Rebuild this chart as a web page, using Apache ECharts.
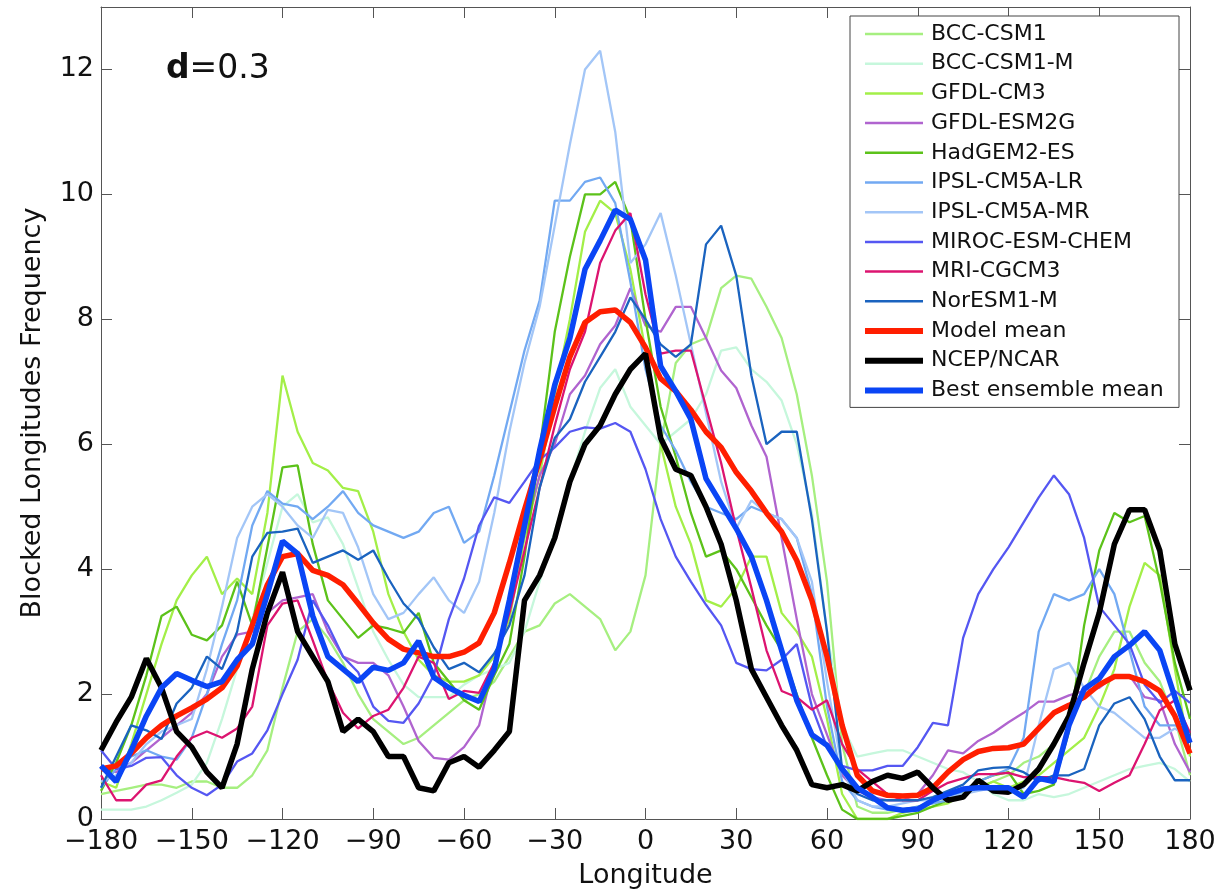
<!DOCTYPE html>
<html><head><meta charset="utf-8">
<script src="https://cdn.jsdelivr.net/npm/echarts@6/dist/echarts.min.js"></script>
<style>html,body{margin:0;padding:0;background:#fff}#c{width:1226px;height:894px}</style>
</head><body><div id="c"></div>
<script>
const lon = [-180,-175,-170,-165,-160,-155,-150,-145,-140,-135,-130,-125,-120,-115,-110,-105,-100,-95,-90,-85,-80,-75,-70,-65,-60,-55,-50,-45,-40,-35,-30,-25,-20,-15,-10,-5,0,5,10,15,20,25,30,35,40,45,50,55,60,65,70,75,80,85,90,95,100,105,110,115,120,125,130,135,140,145,150,155,160,165,170,175,180];
const xTicks = [-180,-150,-120,-90,-60,-30,0,30,60,90,120,150,180];
const yTicks = [0,2,4,6,8,10,12];

const bccCsm1 = [0.4,0.45,0.5,0.55,0.55,0.5,0.6,0.6,0.5,0.5,0.7,1.1,2.1,3.0,3.2,2.9,2.5,2.0,1.6,1.4,1.2,1.3,1.5,1.7,1.9,2.0,2.2,2.6,3.0,3.1,3.45,3.6,3.4,3.2,2.7,3.0,3.9,6.0,7.3,7.6,7.7,8.5,8.7,8.65,8.2,7.7,6.8,5.5,3.8,1.2,0.2,0.1,0.1,0.15,0.2,0.25,0.3,0.4,0.5,0.6,0.7,0.9,1.0,1.2,1.6,2.0,2.6,3.0,3.0,2.5,2.2,1.6,0.7];
const bccCsm1M = [0.15,0.15,0.15,0.2,0.3,0.42,0.55,0.9,1.6,2.4,3.2,4.1,5.0,5.2,4.75,4.83,4.4,3.7,3.0,2.55,2.15,1.95,1.95,1.95,2.15,2.3,2.4,2.5,3.0,3.8,4.6,5.4,6.2,6.9,7.2,6.6,6.3,6.0,6.2,6.4,6.8,7.5,7.55,7.2,7.0,6.7,6.0,4.9,3.0,1.5,1.0,1.05,1.1,1.1,1.0,0.9,0.8,0.75,0.6,0.4,0.3,0.3,0.4,0.35,0.4,0.5,0.6,0.7,0.8,0.85,0.9,0.8,0.6];
const gfdlCm3 = [0.6,0.5,1.2,2.0,2.8,3.5,3.9,4.2,3.6,3.85,3.6,4.9,7.1,6.2,5.7,5.58,5.3,5.25,4.6,3.6,3.0,2.55,2.3,2.2,2.2,2.3,2.6,3.2,4.5,5.5,6.8,8.0,9.4,9.9,9.7,8.8,7.5,6.0,5.0,4.4,3.5,3.4,3.7,4.2,4.2,3.3,3.0,2.6,1.6,0.4,0.0,0.0,0.0,0.1,0.15,0.2,0.25,0.4,0.5,0.6,0.5,0.6,0.7,0.9,1.1,1.3,1.8,2.4,3.4,4.1,3.9,2.4,1.0];
const gfdlEsm2g = [0.8,0.75,0.9,1.1,1.3,1.5,1.7,2.0,2.6,2.95,3.0,3.3,3.5,3.55,3.6,3.0,2.6,2.5,2.5,2.3,1.8,1.25,0.98,0.95,1.15,1.5,2.5,3.4,4.6,5.5,6.0,6.8,7.1,7.6,7.9,8.5,7.9,7.8,8.2,8.2,7.7,7.18,6.9,6.3,5.8,4.5,3.2,2.0,1.35,0.7,0.45,0.35,0.3,0.3,0.4,0.7,1.1,1.05,1.25,1.38,1.55,1.7,1.88,1.88,1.98,2.05,2.1,2.3,2.3,1.95,1.9,1.2,0.75];
const hadGem2Es = [0.45,0.9,1.5,2.3,3.25,3.4,2.95,2.86,3.1,3.8,3.1,4.35,5.63,5.66,4.4,3.5,3.2,2.9,3.1,3.05,2.98,3.3,2.5,2.2,1.9,1.75,2.3,2.8,4.2,5.9,7.8,9.0,10.0,10.0,10.2,9.6,8.0,6.6,5.8,4.9,4.2,4.3,4.0,3.55,3.1,2.7,2.0,1.3,0.7,0.15,0.0,0.0,0.0,0.05,0.1,0.2,0.3,0.45,0.6,0.7,0.75,0.4,0.45,0.55,1.4,3.1,4.3,4.9,4.75,4.85,3.8,2.5,1.6];
const ipslLr = [0.5,0.8,1.0,1.1,1.0,0.95,1.3,2.0,2.8,3.5,4.7,5.25,5.05,5.0,4.8,5.0,5.25,4.9,4.7,4.6,4.5,4.6,4.9,5.0,4.42,4.6,5.5,6.5,7.5,8.3,9.9,9.9,10.2,10.27,9.86,8.6,7.2,6.3,5.9,5.4,5.0,4.9,4.8,5.0,4.9,4.8,4.5,3.6,1.8,0.6,0.3,0.2,0.15,0.15,0.2,0.25,0.3,0.45,0.6,0.7,0.8,1.3,3.0,3.6,3.5,3.6,4.0,3.6,2.7,1.8,1.5,1.5,1.4];
const ipslMr = [0.6,0.7,0.9,1.2,1.4,1.5,1.6,2.4,3.4,4.5,5.0,5.2,5.0,4.7,4.5,4.95,4.9,4.35,3.6,3.2,3.3,3.6,3.87,3.5,3.3,3.8,4.9,6.2,7.3,8.2,9.5,10.8,12.0,12.3,11.0,8.9,9.2,9.7,8.7,7.6,6.5,5.4,4.65,5.1,4.9,4.8,4.5,3.8,2.2,0.8,0.3,0.2,0.2,0.25,0.3,0.3,0.35,0.4,0.45,0.5,0.45,0.5,1.5,2.4,2.5,2.1,1.8,1.7,1.5,1.3,1.3,1.45,1.3];
const mirocEsmChem = [1.1,0.8,0.85,0.98,0.99,0.7,0.5,0.38,0.55,0.92,1.05,1.42,2.0,2.55,3.5,3.1,2.6,2.35,1.8,1.57,1.54,1.85,2.3,3.2,3.85,4.7,5.15,5.06,5.4,5.75,5.95,6.2,6.27,6.25,6.34,6.2,5.6,4.8,4.2,3.8,3.43,3.1,2.5,2.4,2.38,2.55,2.8,1.8,1.15,0.85,0.78,0.78,0.85,0.85,1.15,1.54,1.5,2.9,3.6,4.0,4.35,4.75,5.15,5.5,5.2,4.5,3.4,3.1,2.8,2.15,1.86,2.05,1.86];
const mriCgcm3 = [0.7,0.3,0.3,0.55,0.62,1.0,1.3,1.4,1.3,1.45,1.8,3.1,3.45,3.5,2.86,2.2,1.7,1.45,1.65,1.75,2.1,2.6,2.5,1.92,2.05,2.02,2.5,3.3,4.3,5.3,6.3,7.2,7.8,8.9,9.42,9.7,8.4,7.45,7.5,7.5,6.6,5.7,4.65,3.7,2.7,2.05,1.95,1.75,1.9,1.2,0.8,0.6,0.4,0.3,0.3,0.45,0.58,0.65,0.72,0.72,0.74,0.67,0.67,0.67,0.62,0.58,0.45,0.58,0.7,1.2,1.74,1.9,1.38];
const norEsm1M = [0.5,1.0,1.5,1.42,1.28,1.85,2.1,2.6,2.4,3.0,4.2,4.58,4.6,4.65,4.1,4.2,4.3,4.15,4.3,3.85,3.45,3.2,2.75,2.4,2.5,2.35,2.65,3.1,3.9,5.3,6.1,6.4,7.0,7.4,7.8,8.35,8.0,7.6,7.4,7.6,9.2,9.5,8.7,7.1,6.0,6.2,6.2,4.8,3.0,0.8,0.4,0.3,0.3,0.3,0.3,0.35,0.45,0.55,0.78,0.82,0.83,0.75,0.6,0.7,0.7,0.8,1.5,1.85,1.95,1.6,1.0,0.62,0.62];
const modelMean = [0.8,0.85,1.05,1.3,1.5,1.65,1.78,1.92,2.1,2.45,3.1,3.75,4.2,4.25,3.98,3.9,3.75,3.45,3.14,2.88,2.72,2.66,2.6,2.6,2.67,2.82,3.3,4.1,4.95,5.75,6.6,7.4,7.95,8.12,8.15,7.95,7.55,7.05,6.85,6.55,6.2,5.95,5.55,5.25,4.9,4.6,4.14,3.5,2.6,1.5,0.7,0.45,0.38,0.37,0.38,0.5,0.75,0.95,1.08,1.13,1.14,1.2,1.45,1.7,1.82,1.95,2.15,2.28,2.28,2.2,2.05,1.65,1.05];
const ncepNcar = [1.1,1.55,1.95,2.57,2.1,1.4,1.15,0.75,0.5,1.2,2.4,3.3,3.95,3.0,2.6,2.2,1.4,1.6,1.4,1.0,1.0,0.5,0.45,0.9,1.0,0.83,1.1,1.4,3.5,3.9,4.5,5.4,6.0,6.3,6.8,7.2,7.45,6.1,5.6,5.5,5.0,4.4,3.5,2.4,1.95,1.5,1.1,0.55,0.5,0.55,0.45,0.6,0.7,0.65,0.75,0.5,0.3,0.35,0.62,0.45,0.43,0.55,0.8,1.2,1.65,2.5,3.3,4.4,4.95,4.95,4.3,2.8,2.06];
const bestEnsemble = [0.85,0.6,1.1,1.65,2.1,2.33,2.22,2.12,2.2,2.55,2.8,3.6,4.45,4.25,3.25,2.6,2.4,2.2,2.43,2.38,2.5,2.85,2.27,2.1,1.98,1.88,2.4,3.5,4.7,5.9,6.95,7.7,8.8,9.26,9.75,9.6,8.95,7.25,6.85,6.4,5.45,5.05,4.65,4.2,3.5,2.7,1.9,1.35,1.18,0.8,0.5,0.35,0.18,0.14,0.16,0.3,0.4,0.48,0.5,0.5,0.5,0.35,0.65,0.6,1.5,2.08,2.25,2.6,2.78,3.0,2.7,1.95,1.22];

const seriesDefs = [
  ['BCC-CSM1', bccCsm1, '#a6ef80', 2.3],
  ['BCC-CSM1-M', bccCsm1M, '#c6f7dc', 2.3],
  ['GFDL-CM3', gfdlCm3, '#a3ef48', 2.3],
  ['GFDL-ESM2G', gfdlEsm2g, '#b064cf', 2.3],
  ['HadGEM2-ES', hadGem2Es, '#5cc21a', 2.3],
  ['IPSL-CM5A-LR', ipslLr, '#72a9f2', 2.3],
  ['IPSL-CM5A-MR', ipslMr, '#a3c6f7', 2.3],
  ['MIROC-ESM-CHEM', mirocEsmChem, '#5557f2', 2.3],
  ['MRI-CGCM3', mriCgcm3, '#dc1470', 2.3],
  ['NorESM1-M', norEsm1M, '#1a63bf', 2.3],
  ['Model mean', modelMean, '#ff1e00', 5.5],
  ['NCEP/NCAR', ncepNcar, '#000000', 5.5],
  ['Best ensemble mean', bestEnsemble, '#0a45f5', 5.5]
];

const FONT = 'DejaVu Sans, Verdana, sans-serif';
const minus = v => (v < 0 ? '\u2212' + (-v) : String(v));
const axisCol = '#555';

const chart = echarts.init(document.getElementById('c'), null, {renderer: 'canvas'});
chart.setOption({
  animation: false,
  backgroundColor: '#fff',
  grid: {left: 101, right: 36, top: 7, bottom: 75, containLabel: false},
  xAxis: [{
    type: 'value', min: -180, max: 180, interval: 30,
    name: 'Longitude', nameLocation: 'middle', nameGap: 43,
    nameTextStyle: {fontSize: 27, fontFamily: FONT, color: '#111'},
    axisLine: {show: true, onZero: false, lineStyle: {color: axisCol, width: 1}},
    axisTick: {show: true, inside: true, length: 11, lineStyle: {color: axisCol}},
    axisLabel: {fontSize: 27, fontFamily: FONT, color: '#111', margin: 9,
      formatter: v => xTicks.includes(v) ? minus(v) : ''},
    splitLine: {show: false}
  }, {
    type: 'value', min: -180, max: 180, interval: 30, position: 'top',
    axisLine: {show: true, onZero: false, lineStyle: {color: axisCol, width: 1}},
    axisTick: {show: true, inside: true, length: 11, lineStyle: {color: axisCol}},
    axisLabel: {show: false}, splitLine: {show: false}
  }],
  yAxis: [{
    type: 'value', min: 0, max: 13, interval: 2,
    name: 'Blocked Longitudes Frequency', nameLocation: 'middle', nameGap: 55,
    nameTextStyle: {fontSize: 27, fontFamily: FONT, color: '#111'},
    axisLine: {show: true, onZero: false, lineStyle: {color: axisCol, width: 1}},
    axisTick: {show: true, inside: true, length: 11, lineStyle: {color: axisCol}},
    axisLabel: {fontSize: 27, fontFamily: FONT, color: '#111', margin: 7, showMaxLabel: false,
      formatter: v => yTicks.includes(v) ? String(v) : ''},
    splitLine: {show: false}
  }, {
    type: 'value', min: 0, max: 13, interval: 2, position: 'right',
    axisLine: {show: true, onZero: false, lineStyle: {color: axisCol, width: 1}},
    axisTick: {show: true, inside: true, length: 11, lineStyle: {color: axisCol}},
    axisLabel: {show: false}, splitLine: {show: false}
  }],
  legend: {
    orient: 'vertical', left: 850, top: 16,
    padding: [7, 8, 6, 12], itemGap: 7.7, itemWidth: 58, itemHeight: 20,
    backgroundColor: '#fff', borderColor: '#444', borderWidth: 1, borderRadius: 0,
    itemStyle: {opacity: 0},
    textStyle: {fontSize: 22, lineHeight: 20, fontFamily: FONT, color: '#111', padding: [0, 0, 0, 3], width: 240},
    data: seriesDefs.map(d => ({name: d[0], lineStyle: {width: d[3] > 3 ? 6 : 2.5, color: d[2]}}))
  },
  graphic: [{
    type: 'text', left: 166, top: 53, z: 100,
    style: {
      text: '{b|d}=0.3',
      rich: {b: {fontWeight: 'bold', fontSize: 33, fontFamily: FONT, fill: '#111'}},
      fontSize: 33, fontFamily: FONT, fill: '#111'
    }
  }],
  series: seriesDefs.map(d => ({
    name: d[0], type: 'line', symbol: 'none', smooth: false,
    xAxisIndex: 0, yAxisIndex: 0,
    lineStyle: {color: d[2], width: d[3]},
    itemStyle: {color: d[2]},
    clip: true,
    data: lon.map((x, i) => [x, d[1][i]])
  }))
});
</script></body></html>
